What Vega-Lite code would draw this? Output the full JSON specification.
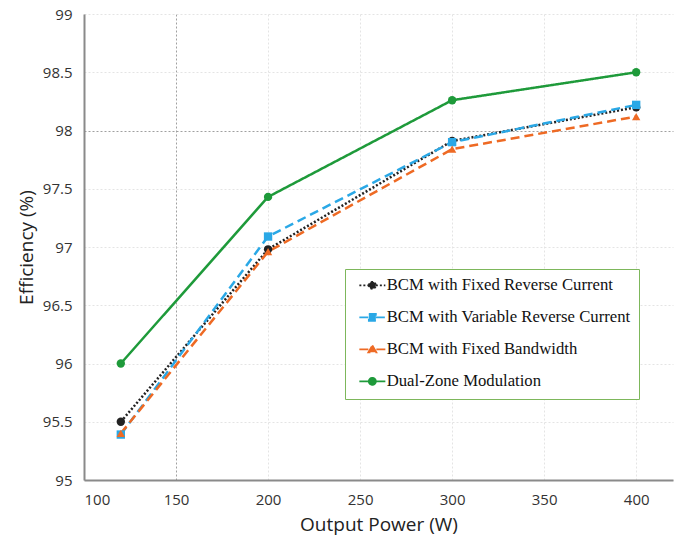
{
  "$schema": "https://vega.github.io/schema/vega-lite/v6.json",
  "width": 589,
  "height": 466,
  "autosize": {"type": "none"},
  "padding": {"left": 84, "top": 14, "right": 5, "bottom": 61},
  "background": "white",
  "config": {
    "view": {"stroke": null},
    "axis": {"labelFont": "Open Sans", "titleFont": "Open Sans", "labelColor": "#333", "titleColor": "#222", "labelFontSize": 15, "titleFontSize": 19, "titleFontWeight": "normal", "ticks": false, "domainColor": "#8a8a8a", "domainWidth": 2, "gridDash": [2, 2]}
  },
  "data": {
    "values": [
      {"P": 120, "series": "BCM with Fixed Reverse Current", "eff": 95.5},
      {"P": 200, "series": "BCM with Fixed Reverse Current", "eff": 96.98},
      {"P": 300, "series": "BCM with Fixed Reverse Current", "eff": 97.91},
      {"P": 400, "series": "BCM with Fixed Reverse Current", "eff": 98.2},
      {"P": 120, "series": "BCM with Variable Reverse Current", "eff": 95.39},
      {"P": 200, "series": "BCM with Variable Reverse Current", "eff": 97.09},
      {"P": 300, "series": "BCM with Variable Reverse Current", "eff": 97.9},
      {"P": 400, "series": "BCM with Variable Reverse Current", "eff": 98.22},
      {"P": 120, "series": "BCM with Fixed Bandwidth", "eff": 95.4},
      {"P": 200, "series": "BCM with Fixed Bandwidth", "eff": 96.96},
      {"P": 300, "series": "BCM with Fixed Bandwidth", "eff": 97.84},
      {"P": 400, "series": "BCM with Fixed Bandwidth", "eff": 98.12},
      {"P": 120, "series": "Dual-Zone Modulation", "eff": 96.0},
      {"P": 200, "series": "Dual-Zone Modulation", "eff": 97.43},
      {"P": 300, "series": "Dual-Zone Modulation", "eff": 98.26},
      {"P": 400, "series": "Dual-Zone Modulation", "eff": 98.5}
    ]
  },
  "encoding": {
    "x": {"field": "P", "type": "quantitative", "title": "Output Power (W)",
      "scale": {"domain": [100, 420], "nice": false},
      "axis": {"values": [100, 150, 200, 250, 300, 350, 400], "labelPadding": 12, "titlePadding": 8,
        "gridColor": {"condition": {"test": "datum.value == 150", "value": "#a0a0a0"}, "value": "#e4e4e4"}}},
    "y": {"field": "eff", "type": "quantitative", "title": "Efficiency (%)",
      "scale": {"domain": [95, 99], "nice": false, "zero": false},
      "axis": {"values": [95, 95.5, 96, 96.5, 97, 97.5, 98, 98.5, 99], "format": ".3~f", "labelPadding": 12, "titlePadding": 6,
        "gridColor": {"condition": {"test": "datum.value == 98", "value": "#a0a0a0"}, "value": "#e4e4e4"}}},
    "color": {"field": "series", "type": "nominal",
      "scale": {"domain": ["BCM with Fixed Reverse Current", "BCM with Variable Reverse Current", "BCM with Fixed Bandwidth", "Dual-Zone Modulation"],
        "range": ["#222222", "#2AA8E6", "#EE6A24", "#1E9A3A"]},
      "legend": {
        "orient": "none", "legendX": 261, "legendY": 255, "title": null,
        "fillColor": "white", "strokeColor": "#7DB75B", "padding": 8,
        "labelFont": "Liberation Serif", "labelFontSize": 16.7, "labelColor": "#111", "labelLimit": 400,
        "symbolSize": 100, "symbolStrokeWidth": 1.8, "rowPadding": 14, "labelOffset": 17,
        "symbolType": "M-1,0H1",
        "encode": {
          "symbols": {
            "update": {
              "shape": {"signal": "datum.value == 'BCM with Variable Reverse Current' ? 'M-0.4,0H1.5M2.9,0H4.8M1.5,-0.7H2.9V0.7H1.5Z' : datum.value == 'BCM with Fixed Bandwidth' ? 'M-0.4,0H1.4M3.0,0H4.8M2.2,-0.8L3.0,0.6H1.4Z' : 'M-0.4,0H1.5M2.9,0H4.8M1.5,0A0.7,0.7 0 1,1 2.9,0A0.7,0.7 0 1,1 1.5,0Z'"},
              "fill": {"signal": "scale('color', datum.value)"},
              "fillOpacity": {"value": 1},
              "strokeDash": {"signal": "datum.value == 'BCM with Fixed Reverse Current' ? [1.5,1.5] : datum.value == 'Dual-Zone Modulation' ? [] : [5,2]"}
            }
          }
        }
      }
    }
  },
  "layer": [
    {
      "mark": {"type": "line", "strokeWidth": 2.5},
      "encoding": {
        "strokeDash": {"field": "series", "type": "nominal", "legend": null,
          "scale": {"domain": ["BCM with Fixed Reverse Current", "BCM with Variable Reverse Current", "BCM with Fixed Bandwidth", "Dual-Zone Modulation"],
            "range": [[2, 2], [9, 5], [9, 5], [1, 0]]}}
      }
    },
    {
      "transform": [{"filter": "datum.series == 'BCM with Fixed Reverse Current' || datum.series == 'Dual-Zone Modulation'"}],
      "mark": {"type": "point", "filled": true, "size": 70, "opacity": 1, "shape": "circle"}
    },
    {
      "transform": [{"filter": "datum.series == 'BCM with Variable Reverse Current'"}],
      "mark": {"type": "point", "filled": true, "size": 70, "opacity": 1, "shape": "square"}
    },
    {
      "transform": [{"filter": "datum.series == 'BCM with Fixed Bandwidth'"}],
      "mark": {"type": "point", "filled": true, "size": 70, "opacity": 1, "shape": "triangle-up"}
    }
  ]
}
